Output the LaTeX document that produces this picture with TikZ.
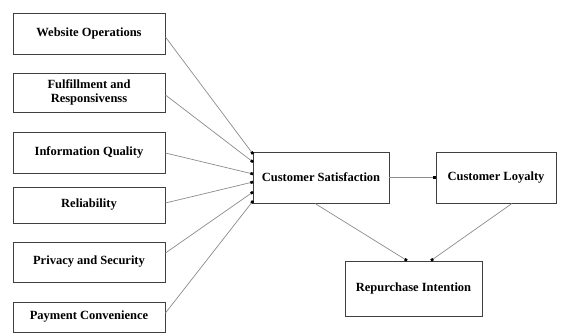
\documentclass[tikz,border=0pt]{standalone}
\usepackage{fontspec}
\setmainfont{Liberation Serif}
\usetikzlibrary{arrows.meta}
\begin{document}
\begin{tikzpicture}[x=1pt,y=-1pt,
  box/.style={draw=black!75, line width=0.9pt, inner sep=0pt, align=center,
    font=\fontsize{12.5}{14}\selectfont\bfseries},
  conn/.style={draw=black!45, line width=0.7pt, -{Square[length=2.6pt,width=2.6pt,black]}}]
\useasboundingbox (0,0) rectangle (563,334);
\fill[white] (0,0) rectangle (563,334);
\node[box, minimum width=152pt, minimum height=41pt] (wo) at (89,33.5) {Website Operations};
\node[box, minimum width=152pt, minimum height=39pt] (fr) at (89,92.5) {Fulfillment and\\Responsivenss};
\node[box, minimum width=152pt, minimum height=41pt] (iq) at (89,152.5) {Information Quality};
\node[box, minimum width=152pt, minimum height=36pt] (re) at (89,205) {Reliability};
\node[box, minimum width=152pt, minimum height=40pt] (ps) at (89,262) {Privacy and Security};
\node[box, minimum width=152pt, minimum height=30pt] (pc) at (89,317) {Payment Convenience};
\node[box, minimum width=136pt, minimum height=51pt] (cs) at (321,177.5) {Customer Satisfaction};
\node[box, minimum width=120pt, minimum height=51pt] (cl) at (496,177.5) {Customer Loyalty};
\node[box, minimum width=137pt, minimum height=55pt] (ri) at (413.5,288.5) {Repurchase Intention};
\coordinate (t1) at (253,154);
\coordinate (t2) at (253,162);
\coordinate (t3) at (253,174);
\coordinate (t4) at (253,182);
\coordinate (t5) at (253,192);
\coordinate (t6) at (253,201);
\path[conn] (wo.east |- 0,37) -- (t1);
\path[conn] (fr.east |- 0,95) -- (t2);
\path[conn] (iq.east |- 0,153) -- (t3);
\path[conn] (re.east |- 0,203) -- (t4);
\path[conn] (ps.east |- 0,253) -- (t5);
\path[conn] (pc.east |- 0,313) -- (t6);
\path[conn] (cs.east) -- (cl.west);
\path[conn] (cs.south -| 315,0) -- (ri.north -| 407,0);
\path[conn] (cl.south -| 512,0) -- (ri.north -| 431,0);
\end{tikzpicture}
\end{document}
